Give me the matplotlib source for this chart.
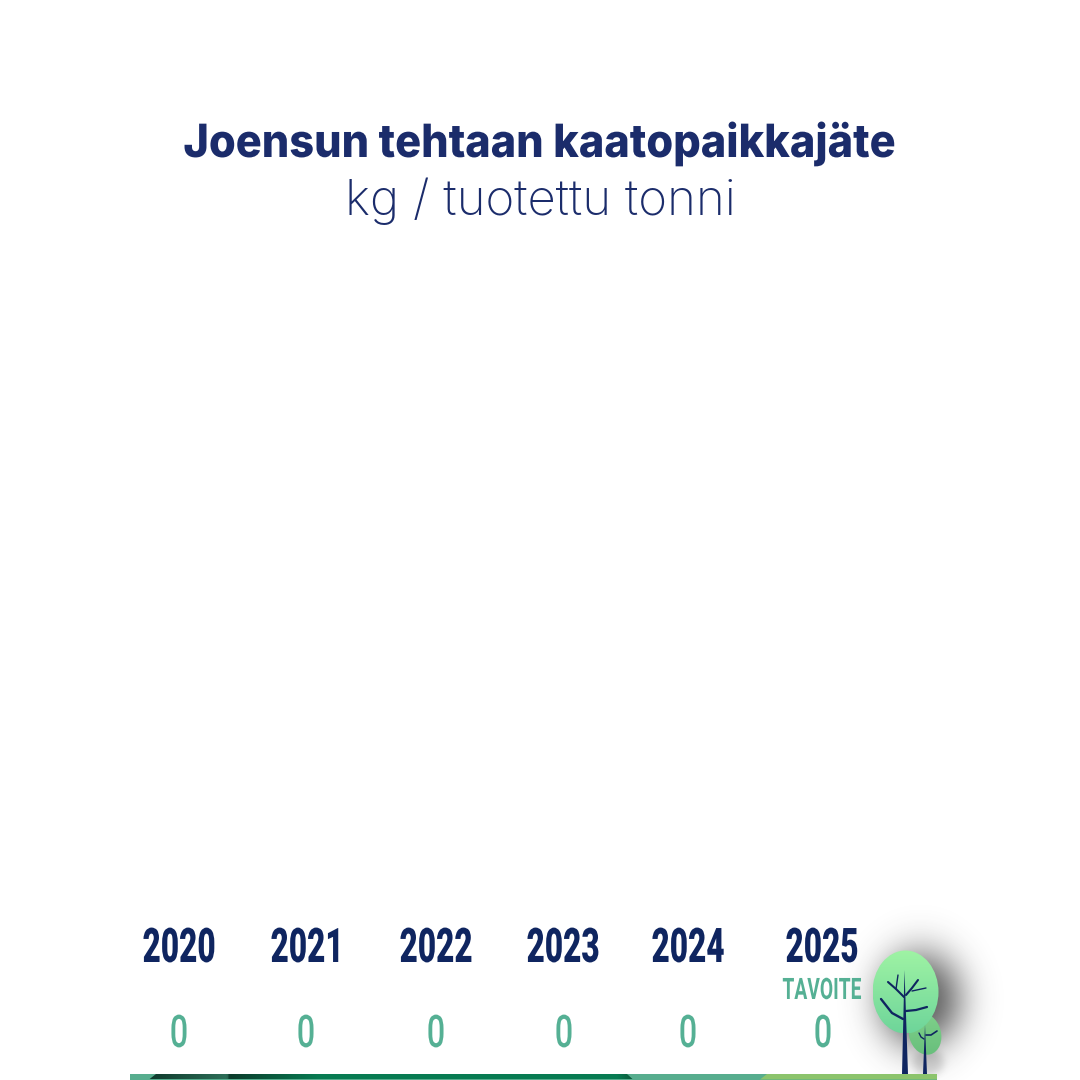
import numpy as np
import matplotlib
matplotlib.use('Agg')
import matplotlib.pyplot as plt
from matplotlib.patches import Ellipse, Polygon, Rectangle
from matplotlib.colors import LinearSegmentedColormap
from matplotlib.patheffects import AbstractPathEffect
from matplotlib.transforms import Affine2D

title = 'Joensun tehtaan kaatopaikkajäte'
subtitle = 'kg / tuotettu tonni'
years = ['2020', '2021', '2022', '2023', '2024', '2025']
values = [0, 0, 0, 0, 0, 0]
target_label = 'TAVOITE'
year_x = [179, 307, 436, 563, 688, 822]
value_x = [179, 306, 436, 564, 688, 823]

NAVY = '#0f2560'
TITLE = '#1b2c6b'
TEAL = '#55b094'


class Condense(AbstractPathEffect):
    """Squeeze a text horizontally about its centre, keeping it a real text."""
    def __init__(self, cx, sx):
        super().__init__()
        self.cx, self.sx = cx, sx

    def draw_path(self, renderer, gc, tpath, affine, rgbFace=None):
        squeeze = Affine2D().translate(-self.cx, 0).scale(self.sx, 1).translate(self.cx, 0)
        renderer.draw_path(gc, tpath, affine + squeeze, rgbFace)


fig = plt.figure(figsize=(10.8, 10.8), dpi=100, facecolor='white')
ax = fig.add_axes([0, 0, 1, 1])
ax.set_xlim(0, 1080)
ax.set_ylim(1080, 0)
ax.axis('off')

ax.text(540, 157, title, ha='center', va='baseline', fontsize=33, fontweight='heavy',
        family='Inter', color=TITLE, path_effects=[Condense(540, 0.945)])
ax.text(540, 215, subtitle, ha='center', va='baseline', fontsize=35.4, fontweight='light',
        family='Inter', color=TITLE)

for x, y in zip(year_x, years):
    ax.text(x, 962, y, ha='center', va='baseline', fontsize=34.4, fontweight='black',
            family='Roboto', color=NAVY, path_effects=[Condense(x, 0.66)])
for x, v in zip(value_x, values):
    ax.text(x, 1047, str(v), ha='center', va='baseline', fontsize=32.4, fontweight='medium',
            family='Roboto', color=TEAL, path_effects=[Condense(x, 0.72)])
ax.text(822, 999, target_label, ha='center', va='baseline', fontsize=21.3, fontweight='bold',
        family='Roboto', color=TEAL, path_effects=[Condense(822, 0.65)])

# soft shadow beside the trees
yy, xx = np.mgrid[0:1080, 0:1080]
sh = np.exp(-(((xx - 920) / 44.0) ** 2 + ((yy - 999) / 50.0) ** 2) ** 1.3) * 0.78
sh2 = np.exp(-(((xx - 928) / 16.0) ** 2 + ((yy - 1062) / 14.0) ** 2) ** 2) * 0.18
rgba = np.zeros((1080, 1080, 4))
rgba[..., :3] = 0.22
rgba[..., 3] = np.clip(sh + sh2, 0, 1)
ax.imshow(rgba, extent=(0, 1080, 1080, 0), zorder=1, interpolation='bilinear', aspect='auto')


def gradient_patch(patch, colors, zorder):
    ax.add_patch(patch)
    patch.set_facecolor('none')
    patch.set_edgecolor('none')
    patch.set_zorder(zorder)
    cmap = LinearSegmentedColormap.from_list('g', colors)
    g = np.linspace(0, 1, 128).reshape(-1, 1)
    bb = patch.get_extents().transformed(ax.transData.inverted())
    x0, x1 = sorted([bb.x0, bb.x1])
    y0, y1 = sorted([bb.y0, bb.y1])
    im = ax.imshow(g, cmap=cmap, extent=(x0, x1, y1, y0), zorder=zorder, aspect='auto')
    im.set_clip_path(patch)


# rear tree crown
gradient_patch(Ellipse((925, 1034), 32, 42, angle=-15), ['#7fd08a', '#68bf7c'], 2)
# front tree crown
gradient_patch(Ellipse((905.5, 992), 66, 83), ['#9ff3a4', '#6ed59a'], 3)


def branch(x, y, w):
    ax.plot(x, y, color=NAVY, lw=w, solid_capstyle='round', zorder=4)


ax.add_patch(Polygon([[904.5, 970], [902, 1074], [908, 1074]], color=NAVY, zorder=4, lw=0))
ax.add_patch(Polygon([[925, 1025], [923, 1074], [927, 1074]], color=NAVY, zorder=4, lw=0))
branch([904, 896, 888], [997, 989, 982], 1.5)
branch([896, 898], [989, 975], 1.0)
branch([906, 912, 918], [995, 988, 980], 1.5)
branch([912, 926], [991, 988], 1.0)
branch([903, 892, 881], [1019, 1013, 999], 1.7)
branch([906, 916, 927], [1011, 1010, 1007], 1.6)
branch([926, 931, 937], [1035, 1035, 1031], 1.2)
branch([924, 921, 919], [1039, 1037, 1033], 1.0)

# ground strip
ax.add_patch(Rectangle((130, 1074), 807, 5.5, color='#57ad8e', lw=0, zorder=5))
stops = [(0.0, '#0f3a2c'), (0.16, '#2d6e58'), (0.165, '#0c3b2b'), (0.35, '#077b52'),
         (0.97, '#077b52'), (1.0, '#0c5a3c')]
strip = LinearSegmentedColormap.from_list('s', stops)
im = ax.imshow(np.linspace(0, 1, 256).reshape(1, -1), cmap=strip,
               extent=(149, 633, 1079.5, 1074), zorder=6, aspect='auto')
clip = Polygon([[156, 1074], [627, 1074], [633, 1079.5], [149, 1079.5]], transform=ax.transData,
               facecolor='none', edgecolor='none')
ax.add_patch(clip)
im.set_clip_path(clip)
ax.add_patch(Polygon([[760, 1079.5], [767, 1074], [937, 1074], [937, 1079.5]],
                     color='#8cc46c', lw=0, zorder=6))

ax.set_xlim(0, 1080)
ax.set_ylim(1080, 0)
fig.savefig('out.png', dpi=100, facecolor='white')
